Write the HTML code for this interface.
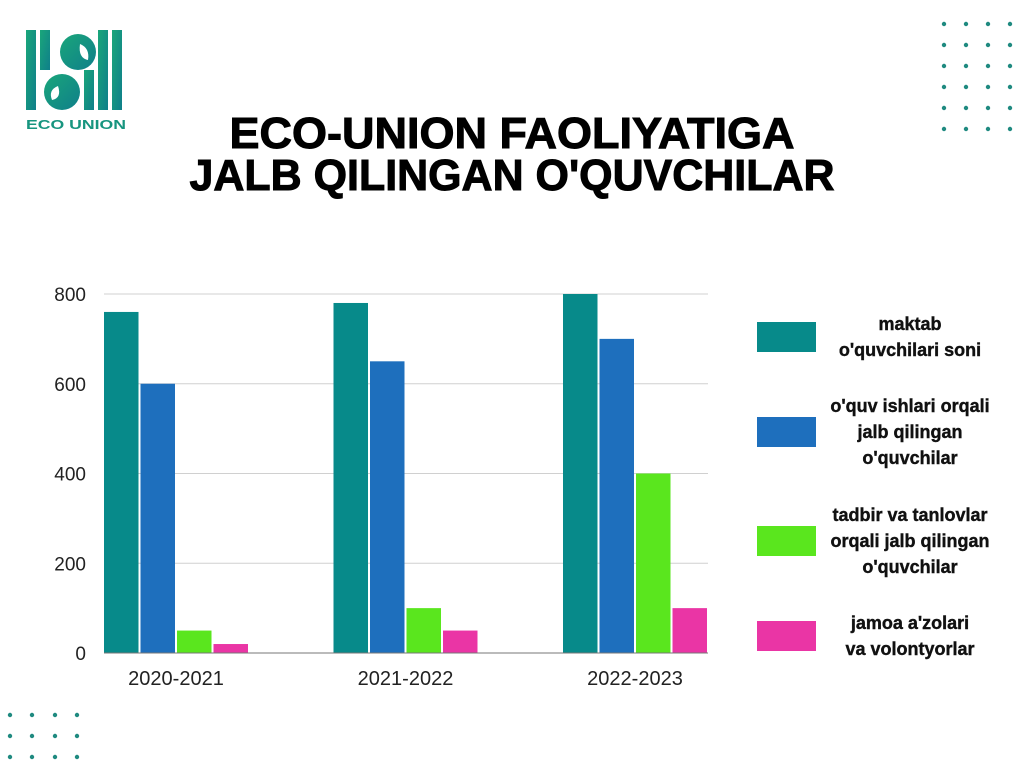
<!DOCTYPE html>
<html><head><meta charset="utf-8"><style>
html,body{margin:0;padding:0;background:#fff;}
svg{display:block;font-family:"Liberation Sans",sans-serif;}
</style></head><body>
<svg id="c" width="1024" height="768" viewBox="0 0 1024 768">
<defs><linearGradient id="lg" x1="0" y1="0" x2="1" y2="1"><stop offset="0" stop-color="#1aa67a"/><stop offset="1" stop-color="#0f7f8a"/></linearGradient></defs>
<g>
<rect x="26" y="30" width="10" height="80" fill="url(#lg)"/>
<rect x="40" y="30" width="10" height="40" fill="url(#lg)"/>
<circle cx="78" cy="52" r="18" fill="url(#lg)"/>
<path d="M80 44 q10 4 8 16 q-10 -2 -8 -16z" fill="#fff"/>
<rect x="98" y="30" width="10" height="80" fill="url(#lg)"/>
<rect x="112" y="30" width="10" height="80" fill="url(#lg)"/>
<circle cx="62" cy="92" r="18" fill="url(#lg)"/>
<path d="M58 86 q-10 4 -6 14 q10 -2 6 -14z" fill="#fff"/>
<rect x="84" y="70" width="10" height="40" fill="url(#lg)"/>
<text x="76" y="129" text-anchor="middle" font-size="13" font-weight="bold" fill="#17957f" textLength="100" lengthAdjust="spacingAndGlyphs">ECO UNION</text>
</g>
<text x="512" y="148" text-anchor="middle" font-size="44" font-weight="bold" fill="#000" stroke="#000" stroke-width="1" textLength="565" lengthAdjust="spacingAndGlyphs">ECO-UNION FAOLIYATIGA</text>
<text x="512" y="190" text-anchor="middle" font-size="44" font-weight="bold" fill="#000" stroke="#000" stroke-width="1" textLength="645" lengthAdjust="spacingAndGlyphs">JALB QILINGAN O'QUVCHILAR</text>
<g id="dots"></g>
<g id="grid"></g><g id="bars"></g><g id="axis"></g><g id="legend"></g>
</svg>
<script>
const categories=["2020-2021","2021-2022","2022-2023"];
const seriesNames=["maktab o'quvchilari soni","o'quv ishlari orqali jalb qilingan o'quvchilar","tadbir va tanlovlar orqali jalb qilingan o'quvchilar","jamoa a'zolari va volontyorlar"];
const maktab=[760,780,800];
const oquv=[600,650,700];
const tadbir=[50,100,400];
const jamoa=[20,50,100];
const yTicks=[0,200,400,600,800];
const series=[maktab,oquv,tadbir,jamoa];
const colors=["#078a8a","#1e6fbd","#5ae61e","#ea35a5"];
const legendLines=[["maktab","o'quvchilari soni"],["o'quv ishlari orqali","jalb qilingan","o'quvchilar"],["tadbir va tanlovlar","orqali jalb qilingan","o'quvchilar"],["jamoa a'zolari","va volontyorlar"]];
const NS="http://www.w3.org/2000/svg";
function mk(t,a,p){const e=document.createElementNS(NS,t);for(const k in a)e.setAttribute(k,a[k]);p.appendChild(e);return e;}
const x0=104,x1=708,y0=653,yTop=294,yMax=800;
const y=v=>y0-(v/yMax)*(y0-yTop);
const gw=229.5;
const xBar=(g,s)=>x0+g*gw+s*36.5;
const grid=document.getElementById('grid'),axis=document.getElementById('axis'),bars=document.getElementById('bars');
yTicks.forEach(t=>{
 if(t>0){const l=mk('line',{x1:x0,x2:x1,y1:y(t),y2:y(t),stroke:'#d0d0d0','stroke-width':1},grid);
 
 }
 const tx=mk('text',{x:86,y:y(t)+7,'text-anchor':'end','font-size':19,fill:'#222'},axis);tx.textContent=t;
 
 
});
const base=mk('line',{x1:x0,x2:x1,y1:y0,y2:y0,stroke:'#777','stroke-width':1},axis);


categories.forEach((c,g)=>{
 series.forEach((s,i)=>{
  const r=mk('rect',{x:xBar(g,i),y:y(s[g]),width:34.5,height:y0-y(s[g]),fill:colors[i]},bars);
  
  
 });
 const t=mk('text',{x:x0+g*gw+72,y:685,'text-anchor':'middle','font-size':20,fill:'#222'},axis);t.textContent=c;
 
 
});
const lg=document.getElementById('legend');
const swY=[322,417,526,621];
legendLines.forEach((lines,i)=>{
 const r=mk('rect',{x:757,y:swY[i],width:59,height:30,fill:colors[i]},lg);
 
 
 const n=lines.length,cy=swY[i]+15;
 lines.forEach((ln,j)=>{
  const t=mk('text',{x:910,y:cy+(j-(n-1)/2)*26+6,'text-anchor':'middle','font-size':18,'font-weight':'bold',fill:'#111',stroke:'#111','stroke-width':0.4},lg);
  t.textContent=ln;
  
  
 });
});
const dots=document.getElementById('dots');
[944,966,988,1010].forEach(dx=>[24,45,66,87,108,129].forEach(dy=>mk('circle',{cx:dx,cy:dy,r:2.2,fill:'#1f8a80'},dots)));
[10,32,55,77].forEach(dx=>[715,736,757].forEach(dy=>mk('circle',{cx:dx,cy:dy,r:2.2,fill:'#1f8a80'},dots)));
</script>
</body></html>
